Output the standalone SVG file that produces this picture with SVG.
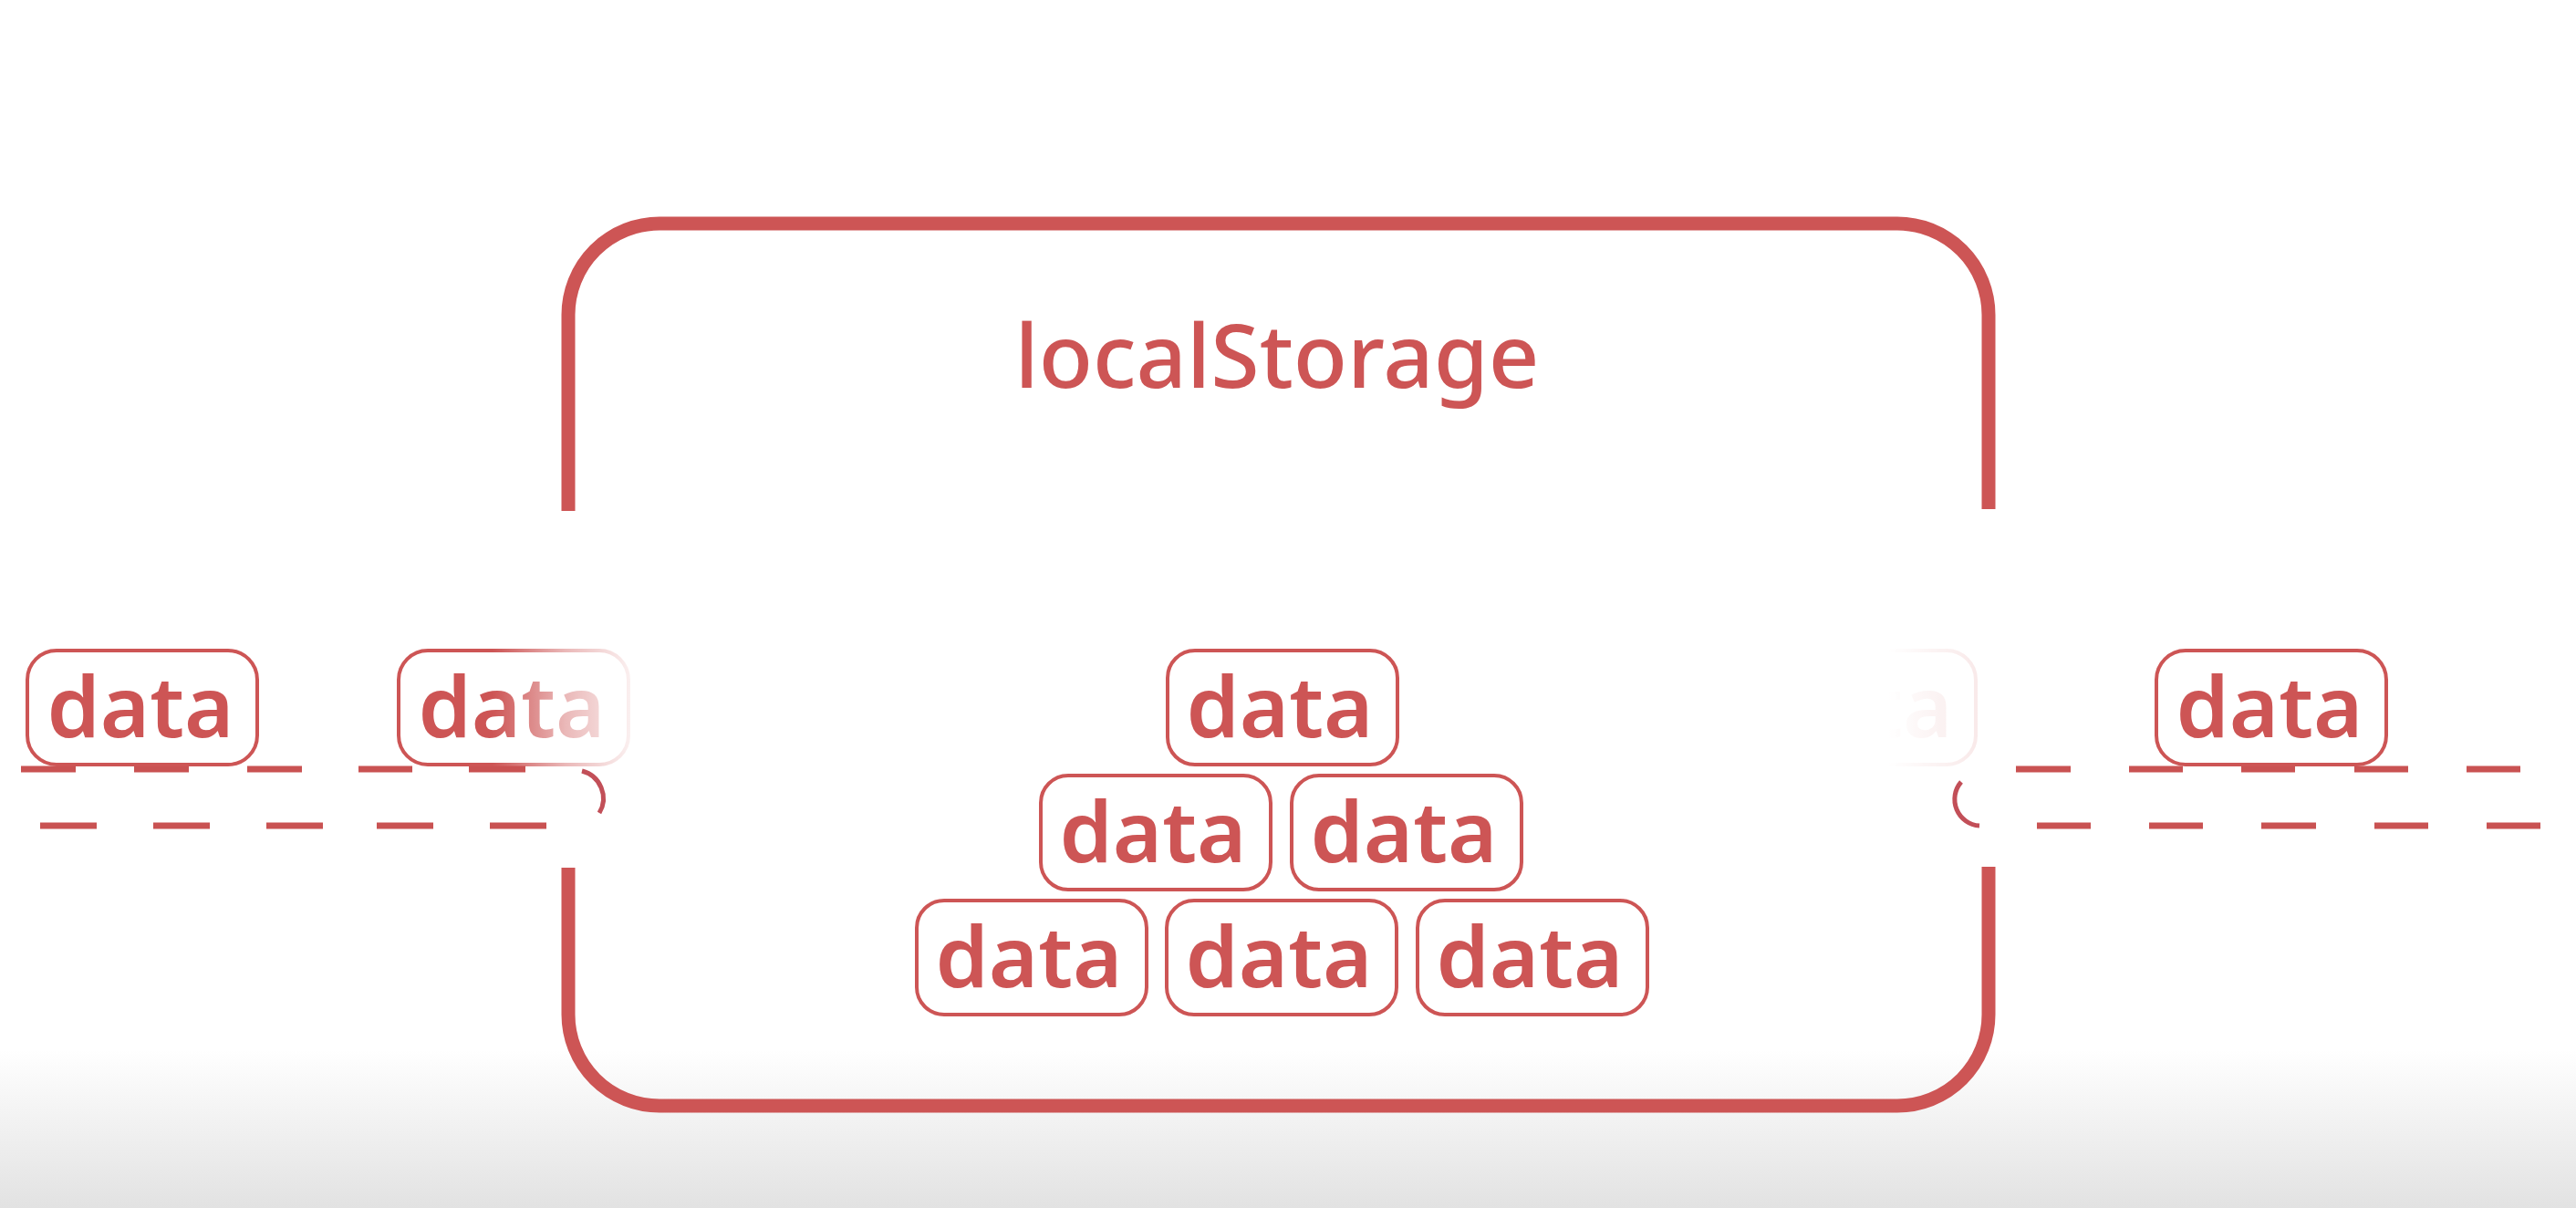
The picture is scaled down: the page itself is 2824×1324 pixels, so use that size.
<svg xmlns="http://www.w3.org/2000/svg" width="2824" height="1324" viewBox="0 0 2824 1324">
  <style>
    .box { fill: #ffffff; stroke: #cd5555; stroke-width: 4; }
    .lbl { font-family: "Noto Sans", "Open Sans", "Liberation Sans", sans-serif; font-size: 93px; font-weight: 600; fill: #cd5555; text-anchor: middle; }
    .title { font-family: "Noto Sans", "Open Sans", "Liberation Sans", sans-serif; font-size: 97px; font-weight: 500; fill: #cd5555; text-anchor: middle; }
    .frame { fill: none; stroke: #cd5555; stroke-width: 15; stroke-linecap: butt; }
    .dash { fill: none; stroke: #c95252; stroke-width: 7; stroke-linecap: butt; }
    .arc { fill: none; stroke: #c24f58; stroke-width: 5; stroke-linecap: butt; }
  </style>
  <defs>
    <linearGradient id="floor" x1="0" y1="0" x2="0" y2="1">
      <stop offset="0" stop-color="#ffffff"/>
      <stop offset="1" stop-color="#e2e2e2"/>
    </linearGradient>
    <linearGradient id="fadeL" gradientUnits="userSpaceOnUse" x1="540" y1="0" x2="700" y2="0">
      <stop offset="0" stop-color="#ffffff"/>
      <stop offset="0.5" stop-color="#6a6a6a"/>
      <stop offset="1" stop-color="#0c0c0c"/>
    </linearGradient>
    <linearGradient id="fadeR" gradientUnits="userSpaceOnUse" x1="2070" y1="0" x2="2172" y2="0">
      <stop offset="0" stop-color="#000000"/>
      <stop offset="1" stop-color="#222222"/>
    </linearGradient>
    <mask id="maskL" maskUnits="userSpaceOnUse" x="0" y="0" width="2824" height="1324">
      <rect x="400" y="690" width="320" height="170" fill="url(#fadeL)"/>
    </mask>
    <mask id="maskR" maskUnits="userSpaceOnUse" x="0" y="0" width="2824" height="1324">
      <rect x="1880" y="690" width="320" height="170" fill="url(#fadeR)"/>
    </mask>
  </defs>

  <rect x="0" y="0" width="2824" height="1324" fill="#ffffff"/>
  <rect x="0" y="1150" width="2824" height="174" fill="url(#floor)"/>

  <g id="localStorage">
    <path class="frame" d="M623,560 V345 A100,100 0 0 1 723,245 H2080 A100,100 0 0 1 2180,345 V558"/>
    <path class="frame" d="M2180,950 V1112 A100,100 0 0 1 2080,1212 H723 A100,100 0 0 1 623,1112 V951"/>
    <text class="title" x="1400" y="425">localStorage</text>
  </g>

  <g id="connectors">
    <path class="dash" d="M23,843 H83 M147,843 H207 M271,843 H331 M393,843 H452 M514,843 H576"/>
    <path class="dash" d="M44,905 H106 M168,905 H230 M292,905 H354 M413,905 H475 M537,905 H599"/>
    <path class="arc" d="M638,845 A31,31 0 0 1 657,891"/>
    <path class="dash" d="M2210,843 H2270 M2334,843 H2393 M2457,843 H2516 M2581,843 H2640 M2704,843 H2763 M2827,843 H2887"/>
    <path class="dash" d="M2233,905 H2292 M2356,905 H2415 M2479,905 H2539 M2603,905 H2662 M2726,905 H2785"/>
    <path class="arc" d="M2150,857 A29,29 0 0 0 2170,905"/>
  </g>

  <g id="data-left-1">
    <rect class="box" x="30" y="713" width="252" height="125" rx="32"/>
    <text class="lbl" x="154" y="808">data</text>
  </g>
  <g id="data-left-2" mask="url(#maskL)">
    <rect class="box" x="437" y="713" width="252" height="125" rx="32"/>
    <text class="lbl" x="561" y="808">data</text>
  </g>
  <g id="data-right-fading" mask="url(#maskR)">
    <rect class="box" x="1914" y="713" width="252" height="125" rx="32"/>
    <text class="lbl" x="2038" y="808">data</text>
  </g>
  <g id="data-right-1">
    <rect class="box" x="2364" y="713" width="252" height="125" rx="32"/>
    <text class="lbl" x="2488" y="808">data</text>
  </g>

  <g id="data-stack-1">
    <rect class="box" x="1280" y="713" width="252" height="125" rx="30"/>
    <text class="lbl" x="1403" y="808">data</text>
  </g>
  <g id="data-stack-2">
    <rect class="box" x="1141" y="850" width="252" height="125" rx="30"/>
    <text class="lbl" x="1264" y="945">data</text>
  </g>
  <g id="data-stack-3">
    <rect class="box" x="1416" y="850" width="252" height="125" rx="30"/>
    <text class="lbl" x="1539" y="945">data</text>
  </g>
  <g id="data-stack-4">
    <rect class="box" x="1005" y="987" width="252" height="125" rx="30"/>
    <text class="lbl" x="1128" y="1082">data</text>
  </g>
  <g id="data-stack-5">
    <rect class="box" x="1279" y="987" width="252" height="125" rx="30"/>
    <text class="lbl" x="1402" y="1082">data</text>
  </g>
  <g id="data-stack-6">
    <rect class="box" x="1554" y="987" width="252" height="125" rx="30"/>
    <text class="lbl" x="1677" y="1082">data</text>
  </g>
</svg>
